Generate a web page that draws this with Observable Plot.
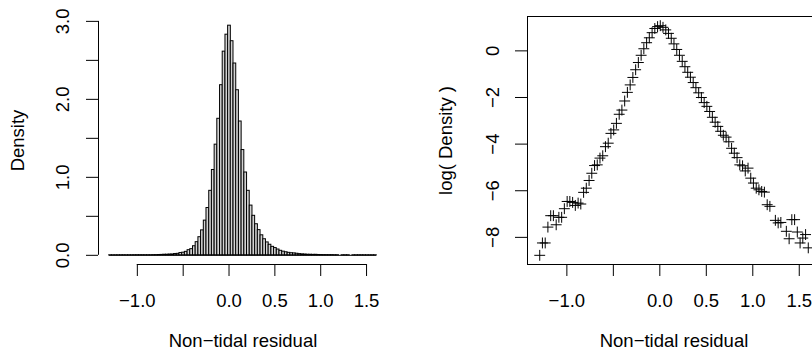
<!DOCTYPE html>
<html><head><meta charset="utf-8">
<script src="https://cdn.jsdelivr.net/npm/d3@7"></script>
<script src="https://cdn.jsdelivr.net/npm/@observablehq/plot@0.6"></script>
<style>
html,body{margin:0;padding:0;background:#fff;overflow:hidden;}
#wrap{position:relative;width:812px;height:354px;overflow:hidden;background:#fff;}
#left{position:absolute;left:0;top:0;width:406px;height:354px;}
#right{position:absolute;left:406px;top:0;width:420px;height:354px;}
#wrap svg{max-width:none !important;display:block;}
</style></head><body>
<div id="wrap"><div id="left"></div><div id="right"></div></div>
<script>
// Histogram bin midpoints (99 equal-width bins)
const binMids = [
 -1.292,-1.263,-1.233,-1.204,-1.174,-1.145,-1.115,-1.086,-1.056,-1.027,
 -0.997,-0.968,-0.938,-0.909,-0.879,-0.850,-0.820,-0.791,-0.761,-0.732,
 -0.702,-0.673,-0.644,-0.614,-0.585,-0.555,-0.526,-0.496,-0.467,-0.437,
 -0.408,-0.378,-0.349,-0.319,-0.290,-0.260,-0.231,-0.201,-0.172,-0.142,
 -0.113,-0.083,-0.054,-0.024, 0.005, 0.034, 0.064, 0.093, 0.123, 0.152,
  0.182, 0.211, 0.241, 0.270, 0.300, 0.329, 0.359, 0.388, 0.418, 0.447,
  0.477, 0.506, 0.536, 0.565, 0.595, 0.624, 0.654, 0.683, 0.713, 0.742,
  0.772, 0.801, 0.831, 0.860, 0.890, 0.919, 0.949, 0.978, 1.007, 1.037,
  1.066, 1.096, 1.125, 1.155, 1.184, 1.214, 1.243, 1.273, 1.302, 1.332,
  1.361, 1.391, 1.420, 1.450, 1.479, 1.509, 1.538, 1.568, 1.597
];
const binWidth = 0.0295;
// log(density) per bin (null = empty bin)
const logDensity = [
 -8.77,-8.24,-8.24,-7.56,-7.07,-7.07,-7.46,-7.14,-7.14,-6.77,
 -6.46,-6.46,-6.50,-6.63,-6.53,-6.57,-6.07,-5.89,-5.56,-5.25,
 -4.92,-4.89,-4.60,-4.50,-4.11,-3.96,-3.54,-3.39,-3.11,-2.72,
 -2.54,-2.15,-1.78,-1.46,-1.14,-0.81,-0.50,-0.19, 0.09, 0.35,
  0.56, 0.78, 0.96, 1.04, 1.08, 1.01, 0.90, 0.75, 0.54, 0.30,
  0.06,-0.19,-0.45,-0.68,-0.92,-1.13,-1.36,-1.58,-1.80,-2.00,
 -2.22,-2.38,-2.60,-2.85,-3.06,-3.24,-3.45,-3.62,-3.70,-3.90,
 -4.18,-4.39,-4.58,-4.89,-4.93,-5.15,-5.03,-5.46,-5.67,-5.89,
 -5.96,-6.03,-6.06,-6.60,-6.67, null,-7.27,-7.38,-7.36, null,
 -7.74,-8.06,-7.24,-7.24,-7.77,-8.24,-8.03,-7.88,-8.45
];
const xTicks = [-1.0,-0.5,0.0,0.5,1.0,1.5];
const xTickLabels = ["\u22121.0","","0.0","0.5","1.0","1.5"];
const histYTicks = [0,0.5,1,1.5,2,2.5,3];
const histYLabelVals = [0,1,2,3];
const histYLabels = ["0.0","1.0","2.0","3.0"];
const logYTicks = [-8,-6,-4,-2,0];
const logYLabels = ["\u22128","\u22126","\u22124","\u22122","0"];
const xTitle = "Non\u2212tidal residual";
const histYTitle = "Density";
const logYTitle = "log( Density )";

const bins = binMids.map((m,i)=>({
  x1: m - binWidth/2, x2: m + binWidth/2, mid: m,
  density: logDensity[i] == null ? 0 : Math.exp(logDensity[i]),
  logd: logDensity[i]
}));
const pts = bins.filter(d => d.logd != null);
const lo = bins[0].x1, hi = bins[bins.length-1].x2;
const xDom = [lo - 0.04*(hi-lo), hi + 0.04*(hi-lo)];
const dMax = d3.max(bins, d=>d.density);
const yDomH = [-0.04*dMax, dMax*1.04];
const lMin = d3.min(pts, d=>d.logd), lMax = d3.max(pts, d=>d.logd);
const yDomL = [lMin - 0.04*(lMax-lMin), lMax + 0.04*(lMax-lMin)];

const FONT = "'Liberation Sans', Arial, Helvetica, sans-serif";
const FS = 18.5;
const style = {fontFamily: FONT, fontSize: FS+"px", background:"transparent", overflow:"visible", color:"black", maxWidth:"none"};

const left = Plot.plot({
  width: 406, height: 354,
  marginLeft: 98, marginRight: 19, marginTop: 16, marginBottom: 90,
  style,
  x: {domain: xDom, ticks: xTicks, tickSize: 12, tickPadding: 17.5,
      tickFormat: d => xTickLabels[xTicks.indexOf(d)] ?? "", label: null},
  y: {domain: yDomH, ticks: histYTicks, tickSize: 12, tickFormat: () => "", label: null},
  marks: [
    Plot.rectY(bins, {x1:"x1", x2:"x2", y1: 0, y2:"density", fill:"#d3d3d3", stroke:"black", strokeWidth:1, inset:0}),
    Plot.ruleY([0], {x1: lo, x2: hi, stroke:"black", strokeWidth:1}),
    Plot.ruleY([yDomH[0]], {x1: xTicks[0], x2: xTicks[xTicks.length-1], stroke:"black", strokeWidth:1}),
    Plot.ruleX([xDom[0]], {y1: histYTicks[0], y2: histYTicks[histYTicks.length-1], stroke:"black", strokeWidth:1}),
    Plot.text(histYLabelVals, {y: d=>d, text: (d,i)=>histYLabels[i], frameAnchor:"left", textAnchor:"middle", dx:-35.5, rotate:-90, fontSize: FS, fill:"black"}),
    Plot.text([histYTitle], {text: d=>d, frameAnchor:"left", textAnchor:"middle", dx:-80.5, rotate:-90, fontSize: FS, fill:"black"}),
    Plot.text([xTitle], {text: d=>d, frameAnchor:"bottom", dy: 82.5, fontSize: FS, fill:"black"})
  ]
});
document.getElementById("left").appendChild(left);

const right = Plot.plot({
  width: 420, height: 354,
  marginLeft: 121, marginRight: 6, marginTop: 16, marginBottom: 90,
  style,
  x: {domain: xDom, ticks: xTicks, tickSize: 12, tickPadding: 17.5,
      tickFormat: d => xTickLabels[xTicks.indexOf(d)] ?? "", label: null},
  y: {domain: yDomL, ticks: logYTicks, tickSize: 12, tickFormat: () => "", label: null},
  marks: [
    Plot.frame({stroke:"black", strokeWidth:1}),
    Plot.dot(pts, {x:"mid", y:"logd", symbol:"plus", r:3.6, stroke:"black", strokeWidth:1}),
    Plot.text(logYTicks, {y: d=>d, text: (d,i)=>logYLabels[i], frameAnchor:"left", textAnchor:"middle", dx:-34, rotate:-90, fontSize: FS, fill:"black"}),
    Plot.text([logYTitle], {text: d=>d, frameAnchor:"left", textAnchor:"middle", dx:-81, rotate:-90, fontSize: FS, fill:"black"}),
    Plot.text([xTitle], {text: d=>d, frameAnchor:"bottom", dy: 82.5, fontSize: FS, fill:"black"})
  ]
});
document.getElementById("right").appendChild(right);
</script>
</body></html>
